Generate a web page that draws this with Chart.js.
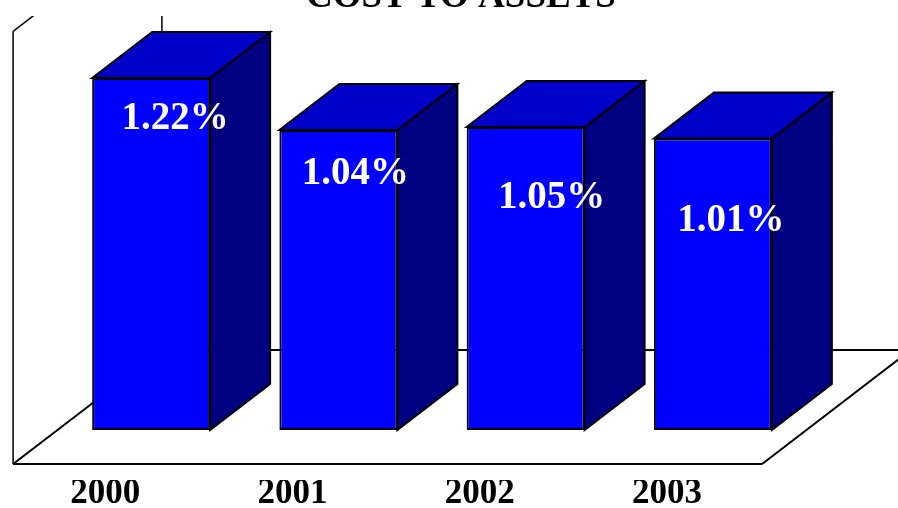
<!DOCTYPE html>
<html>
<head>
<meta charset="utf-8">
<script src="https://cdn.jsdelivr.net/npm/chart.js@4/dist/chart.umd.min.js"></script>
<style>
  html, body { margin: 0; padding: 0; background: #fff; }
  canvas { display: block; }
</style>
</head>
<body>
<canvas id="costChart" width="898" height="508"></canvas>
<script>
//-- data
const years = ['2000', '2001', '2002', '2003'];
const costToAssets = [1.22, 1.04, 1.05, 1.01];
const chartTitle = 'COST TO ASSETS';

//-- look of the fake 3d boxes
const depth = { x: 60, y: -46 };      // how far the box goes "into" the page
const floorGap = 0.74;                 // floor margin in front / behind the boxes, in box depths
const wallTop = 1.5;                   // value where the side wall stops
const clipTop = 16;
const frontColour = '#0000FF';
const topColour = '#0000C8';
const sideColour = '#000080';
const serif = '"Liberation Serif", "Times New Roman", serif';

// where the percent labels sit on each box (px below the box top, px right of centre)
const labelDrop = [41, 44, 71, 82];
const labelShift = [24, 17, 26, 18];

var polygon = function(ctx, pts, fill) {
    ctx.beginPath();
    ctx.moveTo(pts[0][0], pts[0][1]);
    for (let i = 1; i < pts.length; i++) {
        ctx.lineTo(pts[i][0], pts[i][1]);
    }
    ctx.closePath();
    if (fill) {
        ctx.fillStyle = fill;
        ctx.fill();
    }
    ctx.stroke();
}

var line = function(ctx, x1, y1, x2, y2) {
    ctx.beginPath();
    ctx.moveTo(x1, y1);
    ctx.lineTo(x2, y2);
    ctx.stroke();
}

//Draws the floor and the walls behind the bars
const backdrop = {
    id: 'backdrop',
    beforeDatasetsDraw(chart) {
        const ctx = chart.ctx;
        const area = chart.chartArea;
        const y0 = chart.scales.y.getPixelForValue(0);
        const fx = -floorGap * depth.x, fy = -floorGap * depth.y;
        const bx = (1 + floorGap) * depth.x, by = (1 + floorGap) * depth.y;
        const wallY = chart.scales.y.getPixelForValue(wallTop) + fy;

        ctx.save();
        ctx.beginPath();
        ctx.rect(0, clipTop, chart.width, chart.height - clipTop);
        ctx.clip();
        ctx.strokeStyle = '#000';
        ctx.lineWidth = 2;
        ctx.lineJoin = 'miter';

        //floor
        line(ctx, area.left + fx, y0 + fy, area.right + fx, y0 + fy);
        line(ctx, area.left + fx, y0 + fy, area.left + bx, y0 + by);
        line(ctx, area.right + fx, y0 + fy, area.right + bx, y0 + by);
        line(ctx, area.left + bx, y0 + by, area.right + bx, y0 + by);

        //left wall
        ctx.lineWidth = 1.5;
        line(ctx, area.left + fx, y0 + fy, area.left + fx, wallY);
        line(ctx, area.left + fx, wallY, area.left + bx, wallY + by - fy);
        line(ctx, area.left + bx, y0 + by, area.left + bx, wallY + by - fy);
        ctx.restore();
    },
    afterDatasetsDraw(chart) {
        const ctx = chart.ctx;
        const bars = chart.getDatasetMeta(0).data;
        ctx.save();
        ctx.strokeStyle = '#000';
        ctx.lineWidth = 2;
        ctx.lineJoin = 'miter';
        for (let i = 0; i < bars.length; i++) {
            const b = bars[i];
            const left = b.x - b.width / 2;
            const right = b.x + b.width / 2;
            //side
            polygon(ctx, [[right, b.y], [right + depth.x, b.y + depth.y],
                [right + depth.x, b.base + depth.y], [right, b.base]], sideColour);
            //top
            polygon(ctx, [[left, b.y], [left + depth.x, b.y + depth.y],
                [right + depth.x, b.y + depth.y], [right, b.y]], topColour);
        }

        //values
        ctx.fillStyle = '#fff';
        ctx.font = 'bold 39px ' + serif;
        ctx.textAlign = 'center';
        ctx.textBaseline = 'middle';
        for (let i = 0; i < bars.length; i++) {
            const b = bars[i];
            ctx.fillText(costToAssets[i].toFixed(2) + '%', b.x + labelShift[i], b.y + labelDrop[i]);
        }
        ctx.restore();
    },
    afterDraw(chart) {
        const ctx = chart.ctx;
        ctx.save();
        ctx.fillStyle = '#000';
        ctx.font = 'bold 37px ' + serif;
        ctx.textAlign = 'center';
        ctx.textBaseline = 'alphabetic';
        ctx.fillText(chartTitle, 461, 7);
        ctx.restore();
    }
};

var chart = new Chart(document.getElementById('costChart'), {
    type: 'bar',
    data: {
        labels: years,
        datasets: [{
            label: chartTitle,
            data: costToAssets,
            backgroundColor: frontColour,
            borderColor: '#000',
            borderWidth: 2,
            borderSkipped: false,
            barPercentage: 1,
            categoryPercentage: 0.63
        }]
    },
    options: {
        responsive: false,
        animation: false,
        layout: {
            padding: { left: 57.5, right: 91.5, top: 26.1, bottom: 0 }
        },
        plugins: {
            legend: { display: false },
            title: { display: false },
            tooltip: { enabled: false }
        },
        scales: {
            y: {
                display: false,
                min: -0.1733,
                max: 1.4
            },
            x: {
                grid: { display: false, drawTicks: false },
                border: { display: false },
                ticks: {
                    color: '#000',
                    padding: -3.5,
                    labelOffset: -46,
                    font: { family: serif, weight: 'bold', size: 35, lineHeight: 1 }
                }
            }
        }
    },
    plugins: [backdrop]
});
</script>
</body>
</html>
